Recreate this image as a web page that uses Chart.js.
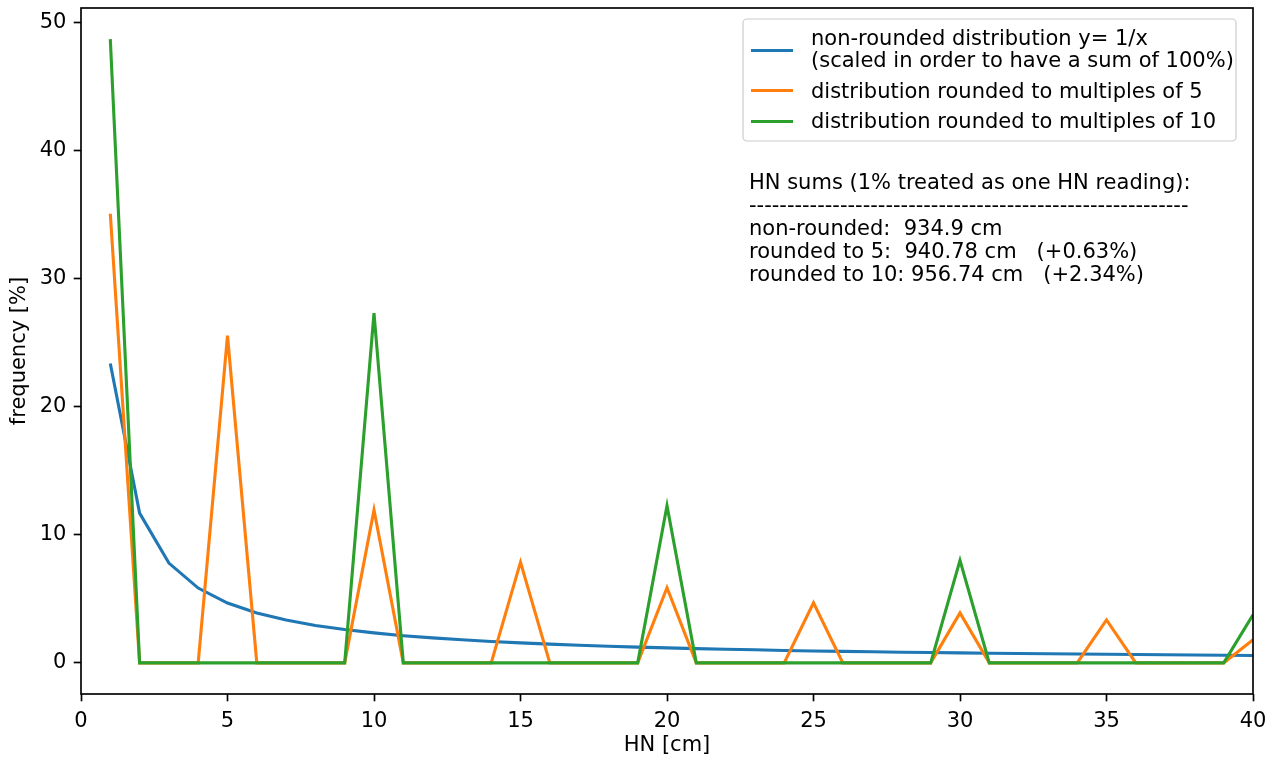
<!DOCTYPE html>
<html>
<head>
<meta charset="utf-8">
<script src="https://cdn.jsdelivr.net/npm/chart.js@4/dist/chart.umd.min.js"></script>
<style>
  body { margin: 0; background: #fff; }
  #wrap { width: 1274px; height: 758px; }
</style>
</head>
<body>
<div id="wrap"><canvas id="hnChart" width="1274" height="758"></canvas></div>
<script>
// HN values [cm]
const hn = [1, 2, 3, 4, 5, 6, 7, 8, 9, 10, 11, 12, 13, 14, 15, 16, 17, 18, 19, 20,
            21, 22, 23, 24, 25, 26, 27, 28, 29, 30, 31, 32, 33, 34, 35, 36, 37, 38, 39, 40];

// frequency [%]
const nonRounded = [23.37, 11.69, 7.79, 5.84, 4.67, 3.90, 3.34, 2.92, 2.60, 2.34,
                    2.12, 1.95, 1.80, 1.67, 1.56, 1.46, 1.37, 1.30, 1.23, 1.17,
                    1.11, 1.06, 1.02, 0.97, 0.93, 0.90, 0.87, 0.83, 0.81, 0.78,
                    0.75, 0.73, 0.71, 0.69, 0.67, 0.65, 0.63, 0.62, 0.60, 0.58];
const rounded5 = [35.06, 0, 0, 0, 25.54, 0, 0, 0, 0, 11.93,
                  0, 0, 0, 0, 7.86, 0, 0, 0, 0, 5.87,
                  0, 0, 0, 0, 4.69, 0, 0, 0, 0, 3.90,
                  0, 0, 0, 0, 3.35, 0, 0, 0, 0, 1.80];
const rounded10 = [48.69, 0, 0, 0, 0, 0, 0, 0, 0, 27.30,
                   0, 0, 0, 0, 0, 0, 0, 0, 0, 12.26,
                   0, 0, 0, 0, 0, 0, 0, 0, 0, 8.00,
                   0, 0, 0, 0, 0, 0, 0, 0, 0, 3.75];

const xTicks = [0, 5, 10, 15, 20, 25, 30, 35, 40];
const yTicks = [0, 10, 20, 30, 40, 50];

const seriesLabels = [
  ['non-rounded distribution y= 1/x', '(scaled in order to have a sum of 100%)'],
  ['distribution rounded to multiples of 5'],
  ['distribution rounded to multiples of 10']
];
const colors = ['#1f77b4', '#ff7f0e', '#2ca02c'];

const noteLines = [
  'HN sums (1% treated as one HN reading):',
  '----------------------------------------------------------',
  'non-rounded:  934.9 cm',
  'rounded to 5:  940.78 cm   (+0.63%)',
  'rounded to 10: 956.74 cm   (+2.34%)'
];

const FONT = 'DejaVu Sans';
const FS = 21;

function pts(ys) { return hn.map((x, i) => ({ x: x, y: ys[i] })); }

// box around the plot, legend and text note
const extras = {
  id: 'extras',
  afterDatasetsDraw(chart) {
    const a = chart.chartArea, c = chart.ctx;
    c.save();
    c.strokeStyle = '#000';
    c.lineWidth = 1.67;
    c.strokeRect(a.left, a.top, a.right - a.left, a.bottom - a.top);

    // legend
    const bx = 743, by = 19, bw = 493, bh = 122, r = 4;
    c.beginPath();
    c.moveTo(bx + r, by);
    c.arcTo(bx + bw, by, bx + bw, by + bh, r);
    c.arcTo(bx + bw, by + bh, bx, by + bh, r);
    c.arcTo(bx, by + bh, bx, by, r);
    c.arcTo(bx, by, bx + bw, by, r);
    c.closePath();
    c.fillStyle = 'rgba(255,255,255,0.8)';
    c.fill();
    c.strokeStyle = '#cccccc';
    c.lineWidth = 1.2;
    c.stroke();

    c.font = FS + 'px "' + FONT + '"';
    c.textBaseline = 'alphabetic';
    c.textAlign = 'left';
    const handleY = [50.5, 90.5, 121.5];
    const textY = [[44.5, 66.5], [97.7], [127.7]];
    seriesLabels.forEach((lab, i) => {
      c.strokeStyle = colors[i];
      c.lineWidth = 3.1;
      c.beginPath();
      c.moveTo(751, handleY[i]);
      c.lineTo(793, handleY[i]);
      c.stroke();
      c.fillStyle = '#000';
      lab.forEach((t, j) => c.fillText(t, 811, textY[i][j]));
    });

    // note
    noteLines.forEach((t, i) => c.fillText(t, 749, 189 + i * 22.9));
    c.restore();
  }
};

const ctx = document.getElementById('hnChart').getContext('2d');
const hnChart = new Chart(ctx, {
  type: 'line',
  data: {
    datasets: [
      { label: seriesLabels[0].join(' '), data: pts(nonRounded), borderColor: colors[0], order: 3 },
      { label: seriesLabels[1][0], data: pts(rounded5), borderColor: colors[1], order: 2 },
      { label: seriesLabels[2][0], data: pts(rounded10), borderColor: colors[2], order: 1 }
    ]
  },
  plugins: [extras],
  options: {
    responsive: false,
    animation: false,
    layout: { padding: { top: 8, right: 21, left: 0, bottom: 0 } },
    elements: {
      line: { borderWidth: 3.1, tension: 0, fill: false, borderCapStyle: 'butt', borderJoinStyle: 'miter' },
      point: { radius: 0 }
    },
    plugins: { legend: { display: false }, tooltip: { enabled: false } },
    scales: {
      x: {
        type: 'linear',
        min: 0, max: 40,
        afterFit(scale) { scale.height = 64; scale.paddingLeft = 0; scale.paddingRight = 0; },
        afterBuildTicks(scale) { scale.ticks = xTicks.map(v => ({ value: v })); },
        border: { display: false },
        grid: { drawOnChartArea: false, drawTicks: true, tickLength: 7.3, tickColor: '#000', tickWidth: 1.67 },
        ticks: { padding: 7.3, color: '#000', font: { family: FONT, size: FS }, maxRotation: 0 },
        title: { display: true, text: 'HN [cm]', color: '#000', font: { family: FONT, size: FS }, padding: { top: 0, bottom: 0 } }
      },
      y: {
        type: 'linear',
        min: -2.43, max: 51.12,
        afterFit(scale) { scale.width = 81; scale.paddingTop = 0; scale.paddingBottom = 0; },
        afterBuildTicks(scale) { scale.ticks = yTicks.map(v => ({ value: v })); },
        border: { display: false },
        grid: { drawOnChartArea: false, drawTicks: true, tickLength: 7.3, tickColor: '#000', tickWidth: 1.67 },
        ticks: { padding: 7.3, color: '#000', font: { family: FONT, size: FS } },
        title: { display: true, text: 'frequency [%]', color: '#000', font: { family: FONT, size: FS }, padding: { top: 7, bottom: 0 } }
      }
    }
  }
});
</script>
</body>
</html>
